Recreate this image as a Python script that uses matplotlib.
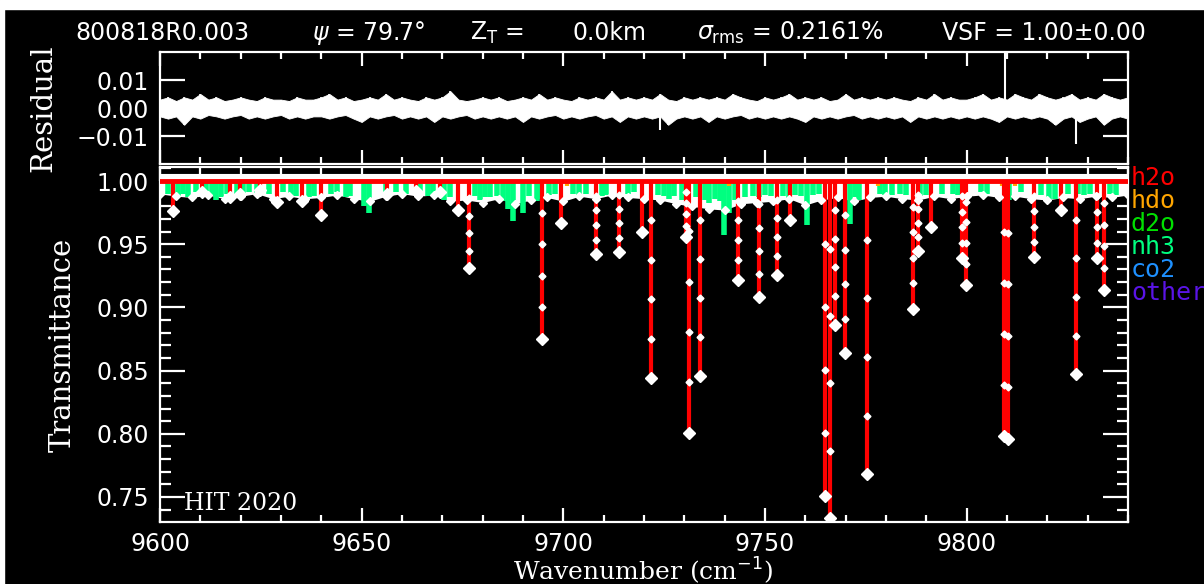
import numpy as np
import matplotlib
matplotlib.use("Agg")
import matplotlib.pyplot as plt
from matplotlib.patches import Rectangle
from matplotlib.ticker import MultipleLocator, FormatStrFormatter

# spectral window (cm-1)
wn_min, wn_max = 9600.0, 9840.0

# fit residual, upper / lower envelope every 2 cm-1
res_wn = np.arange(9600, 9841, 2)
res_hi = [0.0030, 0.0038, 0.0025, 0.0038, 0.0030, 0.0050, 0.0030, 0.0038, 0.0025, 0.0030,
          0.0038, 0.0030, 0.0025, 0.0038, 0.0030, 0.0030, 0.0025, 0.0038, 0.0030, 0.0030,
          0.0038, 0.0050, 0.0030, 0.0038, 0.0025, 0.0030, 0.0038, 0.0030, 0.0050, 0.0030,
          0.0038, 0.0030, 0.0025, 0.0038, 0.0030, 0.0038, 0.0060, 0.0030, 0.0025, 0.0030,
          0.0038, 0.0030, 0.0038, 0.0025, 0.0030, 0.0038, 0.0030, 0.0050, 0.0030, 0.0038,
          0.0030, 0.0025, 0.0038, 0.0030, 0.0038, 0.0030, 0.0060, 0.0030, 0.0038, 0.0030,
          0.0038, 0.0030, 0.0050, 0.0030, 0.0025, 0.0038, 0.0030, 0.0038, 0.0030, 0.0038,
          0.0030, 0.0050, 0.0038, 0.0030, 0.0025, 0.0038, 0.0030, 0.0038, 0.0050, 0.0030,
          0.0038, 0.0030, 0.0038, 0.0025, 0.0030, 0.0050, 0.0030, 0.0038, 0.0030, 0.0038,
          0.0030, 0.0038, 0.0030, 0.0025, 0.0038, 0.0030, 0.0050, 0.0030, 0.0038, 0.0030,
          0.0030, 0.0038, 0.0050, 0.0030, 0.0038, 0.0030, 0.0050, 0.0038, 0.0030, 0.0050,
          0.0038, 0.0030, 0.0038, 0.0050, 0.0030, 0.0038, 0.0030, 0.0050, 0.0038, 0.0030,
          0.0038]
res_lo = [-0.0030, -0.0038, -0.0030, -0.0060, -0.0030, -0.0038, -0.0025, -0.0030, -0.0038, -0.0030,
          -0.0025, -0.0038, -0.0030, -0.0038, -0.0030, -0.0025, -0.0038, -0.0030, -0.0038, -0.0030,
          -0.0030, -0.0038, -0.0030, -0.0025, -0.0038, -0.0050, -0.0030, -0.0038, -0.0030, -0.0025,
          -0.0038, -0.0030, -0.0038, -0.0030, -0.0050, -0.0030, -0.0038, -0.0030, -0.0025, -0.0038,
          -0.0030, -0.0038, -0.0030, -0.0038, -0.0030, -0.0050, -0.0030, -0.0038, -0.0030, -0.0025,
          -0.0038, -0.0030, -0.0038, -0.0030, -0.0025, -0.0038, -0.0030, -0.0050, -0.0030, -0.0038,
          -0.0030, -0.0038, -0.0030, -0.0060, -0.0038, -0.0030, -0.0038, -0.0030, -0.0050, -0.0030,
          -0.0038, -0.0030, -0.0025, -0.0038, -0.0030, -0.0038, -0.0030, -0.0038, -0.0030, -0.0038,
          -0.0050, -0.0030, -0.0038, -0.0030, -0.0038, -0.0030, -0.0025, -0.0038, -0.0030, -0.0038,
          -0.0030, -0.0038, -0.0030, -0.0050, -0.0030, -0.0038, -0.0030, -0.0038, -0.0030, -0.0038,
          -0.0030, -0.0038, -0.0030, -0.0038, -0.0050, -0.0030, -0.0038, -0.0030, -0.0038, -0.0030,
          -0.0038, -0.0060, -0.0038, -0.0030, -0.0050, -0.0038, -0.0030, -0.0060, -0.0038, -0.0030,
          -0.0038]
# isolated residual spikes
res_spike_wn = [9809.5, 9827.2, 9724.0]
res_spike_val = [0.0198, -0.013, -0.008]

# lower edge of the measured continuum band, every 4 cm-1
cont_wn = np.arange(9600, 9841, 4)
cont_lo = [0.990, 0.988, 0.987, 0.989, 0.986, 0.988, 0.990, 0.986, 0.988, 0.986,
           0.987, 0.989, 0.986, 0.984, 0.988, 0.990, 0.988, 0.989, 0.984, 0.985,
           0.983, 0.986, 0.982, 0.985, 0.987, 0.984, 0.988, 0.986, 0.989, 0.987,
           0.986, 0.985, 0.982, 0.980, 0.978, 0.977, 0.982, 0.983, 0.984, 0.986,
           0.981, 0.985, 0.987, 0.984, 0.987, 0.988, 0.986, 0.985, 0.988, 0.986,
           0.988, 0.989, 0.987, 0.988, 0.986, 0.985, 0.987, 0.986, 0.988, 0.987,
           0.989]

# h2o lines: centre (cm-1) and transmittance at line centre
h2o_wn = [9603.2, 9610.3, 9617.3, 9619.8, 9624.8, 9629.0, 9635.3, 9640.0, 9656.4, 9663.5,
          9669.3, 9674.0, 9676.7, 9694.8, 9699.4, 9708.2, 9713.9, 9719.6, 9721.8, 9730.4,
          9731.2, 9733.9, 9743.2, 9748.4, 9753.0, 9756.2, 9764.9, 9766.2, 9767.4, 9769.8,
          9775.2, 9786.6, 9787.9, 9791.1, 9798.8, 9799.8, 9809.3, 9810.2, 9816.6, 9823.4,
          9827.2, 9832.4, 9834.0]
h2o_t = [0.976, 0.9915, 0.9876, 0.990, 0.993, 0.9836, 0.984, 0.973, 0.990, 0.992,
         0.991, 0.977, 0.931, 0.875, 0.967, 0.942, 0.944, 0.960, 0.844, 0.956,
         0.801, 0.846, 0.922, 0.908, 0.926, 0.969, 0.751, 0.733, 0.886, 0.864,
         0.768, 0.899, 0.945, 0.964, 0.939, 0.918, 0.798, 0.796, 0.940, 0.977,
         0.847, 0.939, 0.914]

# nh3 lines
nh3_wn = [9602.0, 9604.5, 9605.8, 9607.0, 9609.0, 9611.5, 9612.8, 9614.0, 9615.2, 9616.5,
          9619.0, 9620.5, 9622.0, 9624.0, 9627.0, 9630.5, 9632.5, 9633.8, 9637.0, 9638.2,
          9642.5, 9644.0, 9646.0, 9647.2, 9650.5, 9651.8, 9656.0, 9658.5, 9661.0, 9664.5,
          9666.5, 9667.8, 9670.5, 9671.8, 9678.0, 9679.3, 9680.5, 9681.8, 9683.5, 9685.0,
          9686.3, 9687.6, 9690.0, 9691.5, 9693.5, 9694.5, 9696.5, 9698.0, 9702.5, 9704.0,
          9705.5, 9709.5, 9710.7, 9716.0, 9717.5, 9723.5, 9725.0, 9726.2, 9727.4, 9729.5,
          9733.0, 9735.0, 9736.2, 9737.5, 9738.8, 9739.8, 9741.0, 9742.5, 9745.0, 9747.0,
          9748.5, 9750.0, 9751.5, 9754.5, 9756.0, 9757.5, 9759.0, 9760.5, 9762.0, 9763.3,
          9771.0, 9772.2, 9773.4, 9778.5, 9779.8, 9781.5, 9783.5, 9785.0, 9788.5, 9790.0,
          9794.0, 9796.5, 9797.8, 9803.5, 9805.0, 9810.5, 9813.5, 9818.5, 9820.5, 9822.0,
          9825.0, 9827.5, 9829.0, 9830.5, 9835.5, 9837.0]
nh3_t = [0.990, 0.988, 0.990, 0.987, 0.991, 0.990, 0.988, 0.985, 0.987, 0.990,
         0.990, 0.989, 0.991, 0.990, 0.990, 0.991, 0.987, 0.988, 0.987, 0.988,
         0.990, 0.991, 0.987, 0.988, 0.980, 0.975, 0.990, 0.991, 0.990, 0.991,
         0.988, 0.989, 0.985, 0.987, 0.988, 0.985, 0.987, 0.987, 0.988, 0.984,
         0.978, 0.968, 0.975, 0.988, 0.984, 0.986, 0.989, 0.990, 0.990, 0.989,
         0.990, 0.988, 0.989, 0.990, 0.991, 0.989, 0.988, 0.986, 0.988, 0.985,
         0.987, 0.985, 0.983, 0.986, 0.984, 0.957, 0.975, 0.985, 0.987, 0.988,
         0.987, 0.989, 0.988, 0.988, 0.986, 0.989, 0.988, 0.965, 0.989, 0.990,
         0.966, 0.987, 0.985, 0.990, 0.989, 0.989, 0.990, 0.989, 0.988, 0.989,
         0.990, 0.990, 0.989, 0.991, 0.990, 0.985, 0.991, 0.989, 0.985, 0.986,
         0.990, 0.990, 0.989, 0.990, 0.990, 0.989]

# hdo lines
hdo_wn = [9701.0, 9741.0, 9766.0, 9778.0, 9808.7, 9812.0, 9827.0]
hdo_t = [0.996, 0.996, 0.997, 0.996, 0.996, 0.996, 0.995]

species = ["h2o", "hdo", "d2o", "nh3", "co2", "other"]
species_colors = ["#ff0000", "#ffa500", "#00e000", "#00ff80", "#1e90ff", "#5a14e6"]

plt.rcParams.update({
    "font.family": "DejaVu Sans",
    "text.color": "white",
    "axes.labelcolor": "white",
    "axes.edgecolor": "white",
    "axes.facecolor": "black",
    "xtick.color": "white",
    "ytick.color": "white",
    "axes.linewidth": 1.6,
})

fig = plt.figure(figsize=(12.04, 5.84), dpi=100, facecolor="black")
W, H = 1204.0, 584.0


def px_axes(x0, y0, x1, y1):
    return fig.add_axes([x0 / W, 1 - y1 / H, (x1 - x0) / W, (y1 - y0) / H])


def style_ticks(ax, ymaj, ymin, ylen):
    ax.xaxis.set_major_locator(MultipleLocator(50))
    ax.xaxis.set_minor_locator(MultipleLocator(10))
    ax.yaxis.set_major_locator(MultipleLocator(ymaj))
    if ymin:
        ax.yaxis.set_minor_locator(MultipleLocator(ymin))
    ax.tick_params(which="both", direction="in", top=True, right=True,
                   width=1.6, labelsize=17)
    ax.tick_params(axis="y", pad=8)
    ax.tick_params(axis="x", pad=7)
    ax.tick_params(axis="x", which="major", length=10)
    ax.tick_params(axis="x", which="minor", length=5)
    ax.tick_params(axis="y", which="major", length=ylen)
    ax.tick_params(axis="y", which="minor", length=8)


# --- residual panel ---
ax_r = px_axes(160, 52, 1128, 164)
ax_r.fill_between(res_wn, res_lo, res_hi, color="white", lw=0.6, edgecolor="white")
ax_r.vlines(res_wn, res_lo, res_hi, color="white", lw=1.2)
ax_r.vlines(res_spike_wn, 0, res_spike_val, color="white", lw=1.5)
ax_r.set_xlim(wn_min, wn_max)
ax_r.set_ylim(-0.02, 0.02)
style_ticks(ax_r, 0.01, None, 18)
ax_r.set_yticks([-0.01, 0.0, 0.01])
ax_r.set_yticklabels(["\u22120.01", "0.00", "0.01"])
ax_r.tick_params(axis="x", labelbottom=False)
ax_r.set_ylabel("Residual", family="DejaVu Serif", fontsize=21, labelpad=14)

# --- transmittance panel ---
ax_t = px_axes(160, 167, 1128, 522)
ax_t.fill_between(cont_wn, cont_lo, 1.006, color="white", lw=0)
ax_t.plot(cont_wn, cont_lo, ls="none", marker="D", ms=4, color="white", zorder=6)
ax_t.vlines(nh3_wn, nh3_t, 1.0, color=species_colors[3], lw=4, zorder=2)
ax_t.vlines(hdo_wn, hdo_t, 1.0, color=species_colors[1], lw=3, zorder=2.5)
ax_t.axhline(1.0, color="#ff0000", lw=3.5, zorder=3)
ax_t.vlines(h2o_wn, h2o_t, 1.0, color="#ff0000", lw=3, zorder=3)
ax_t.plot(h2o_wn, h2o_t, ls="none", marker="D", ms=6, color="white", zorder=6)

# sampled points along the deeper lines
for w, t in zip(h2o_wn, h2o_t):
    if t < 0.96:
        levels = [1 - f * (1 - t) for f in (0.2, 0.4, 0.6, 0.8)]
        ax_t.plot([w] * len(levels), levels, ls="none", marker="D", ms=3.5,
                  color="white", zorder=6)

ax_t.set_xlim(wn_min, wn_max)
ax_t.set_ylim(0.7302, 1.0111)
style_ticks(ax_t, 0.05, 0.01, 18)
ax_t.yaxis.set_major_formatter(FormatStrFormatter("%.2f"))
ax_t.set_ylabel("Transmittance", family="DejaVu Serif", fontsize=21, labelpad=14)
ax_t.text(9606, 0.745, "HIT 2020", fontsize=17, color="white", va="center",
          family="DejaVu Serif")
fig.text(643 / W, 1 - 571 / H, "Wavenumber (cm$^{-1}$)", family="DejaVu Serif",
         fontsize=18, ha="center", va="center")

# species labels down the right edge
for i, (name, col) in enumerate(zip(species, species_colors)):
    fig.text(1131 / W, 1 - (178 + 23 * i) / H, name, color=col, fontsize=18,
             family="DejaVu Sans Mono", va="center", ha="left")

# header line
head_y = 1 - 33 / H
fig.text(75 / W, head_y, "800818R0.003", fontsize=17, va="center")
fig.text(312 / W, head_y, r"$\psi$ = 79.7°", fontsize=17, va="center")
fig.text(470 / W, head_y, r"Z$_\mathrm{T}$ =", fontsize=17, va="center")
fig.text(572 / W, head_y, "0.0km", fontsize=17, va="center")
fig.text(697 / W, head_y, r"$\sigma_\mathrm{rms}$ = 0.2161%", fontsize=17, va="center")
fig.text(942 / W, head_y, "VSF = 1.00±0.00", fontsize=17, va="center")

# white frame strips along the top and left edge
fig.patches.append(Rectangle((0, 1 - 9 / H), 1, 9 / H, transform=fig.transFigure,
                             color="white", zorder=0))
fig.patches.append(Rectangle((0, 0), 4 / W, 1, transform=fig.transFigure,
                             color="white", zorder=0))

fig.savefig("out.png", dpi=100, facecolor="black")
